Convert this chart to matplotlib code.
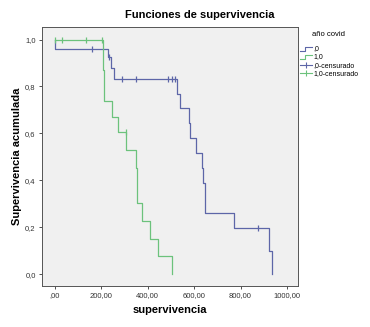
import matplotlib
matplotlib.use('Agg')
import matplotlib.pyplot as plt
from matplotlib.lines import Line2D

plt.rcParams['font.family'] = ['Liberation Sans', 'DejaVu Sans']

# Kaplan-Meier steps
t_0 = [0, 0, 230, 241, 254, 524, 539, 579, 581, 608, 632, 639, 645, 647, 773, 922, 937]
s_0 = [1.0, 0.96, 0.924, 0.877, 0.832, 0.768, 0.707, 0.643, 0.579, 0.515, 0.451,
       0.387, 0.323, 0.259, 0.195, 0.098, 0.0]
cens_t_0 = [158, 233, 290, 348, 486, 503, 517, 874]
cens_s_0 = [0.96, 0.924, 0.832, 0.832, 0.832, 0.832, 0.832, 0.195]

t_1 = [0, 207, 211, 244, 273, 305, 349, 352, 374, 409, 445, 506]
s_1 = [1.0, 0.87, 0.739, 0.668, 0.604, 0.529, 0.452, 0.305, 0.227, 0.152, 0.077, 0.0]
cens_t_1 = [0, 29, 134, 201, 305]
cens_s_1 = [1.0, 1.0, 1.0, 1.0, 0.604]

xticks = [0, 200, 400, 600, 800, 1000]
xlabels = [',00', '200,00', '400,00', '600,00', '800,00', '1000,00']
yticks = [0, 0.2, 0.4, 0.6, 0.8, 1.0]
ylabels = ['0,0', '0,2', '0,4', '0,6', '0,8', '1,0']

blue = '#5d66a8'
green = '#6cc27c'

fig = plt.figure(figsize=(3.7, 3.27), dpi=100)
ax = fig.add_axes([0.1135, 0.125, 0.6915, 0.792])
ax.set_facecolor('#f0f0f0')

ax.step(t_0, s_0, where='post', color=blue, lw=0.9)
ax.step(t_1, s_1, where='post', color=green, lw=0.9)
ax.plot(cens_t_0, cens_s_0, ls='none', marker='|', ms=4, mew=0.9, color=blue)
ax.plot(cens_t_1, cens_s_1, ls='none', marker='|', ms=4, mew=0.9, color=green)

ax.set_xlim(-56, 1047)
ax.set_ylim(-0.051, 1.053)
ax.set_xticks(xticks)
ax.set_xticklabels(xlabels)
ax.set_yticks(yticks)
ax.set_yticklabels(ylabels)
ax.tick_params(labelsize=5.5, length=2.5, width=0.6, colors='#333333', pad=2)
for sp in ax.spines.values():
    sp.set_color('#555555')
    sp.set_linewidth(0.7)

ax.set_xlabel('supervivencia', fontsize=8, fontweight='bold', labelpad=4)
ax.set_ylabel('Supervivencia acumulada', fontsize=8, fontweight='bold', labelpad=2)
fig.text(0.54, 0.955, 'Funciones de supervivencia', ha='center', va='center',
         fontsize=8, fontweight='bold')

# legend drawn by hand
fig.text(0.842, 0.893, 'año covid', fontsize=5.5, va='center')
names = [',0', '1,0', ',0-censurado', '1,0-censurado']
ys = [0.852, 0.827, 0.800, 0.776]
for i, (nm, y) in enumerate(zip(names, ys)):
    c = blue if i % 2 == 0 else green
    if i < 2:
        fig.add_artist(Line2D([0.811, 0.825, 0.825, 0.843], [y - 0.007, y - 0.007, y + 0.005, y + 0.005],
                              color=c, lw=0.8, transform=fig.transFigure))
    else:
        fig.add_artist(Line2D([0.811, 0.843], [y, y], color=c, lw=0.8, transform=fig.transFigure))
        fig.add_artist(Line2D([0.827], [y], color=c, marker='|', ms=4, mew=0.8, transform=fig.transFigure))
    fig.text(0.847, y, nm, fontsize=5, va='center')

fig.savefig('out.png', dpi=100)
